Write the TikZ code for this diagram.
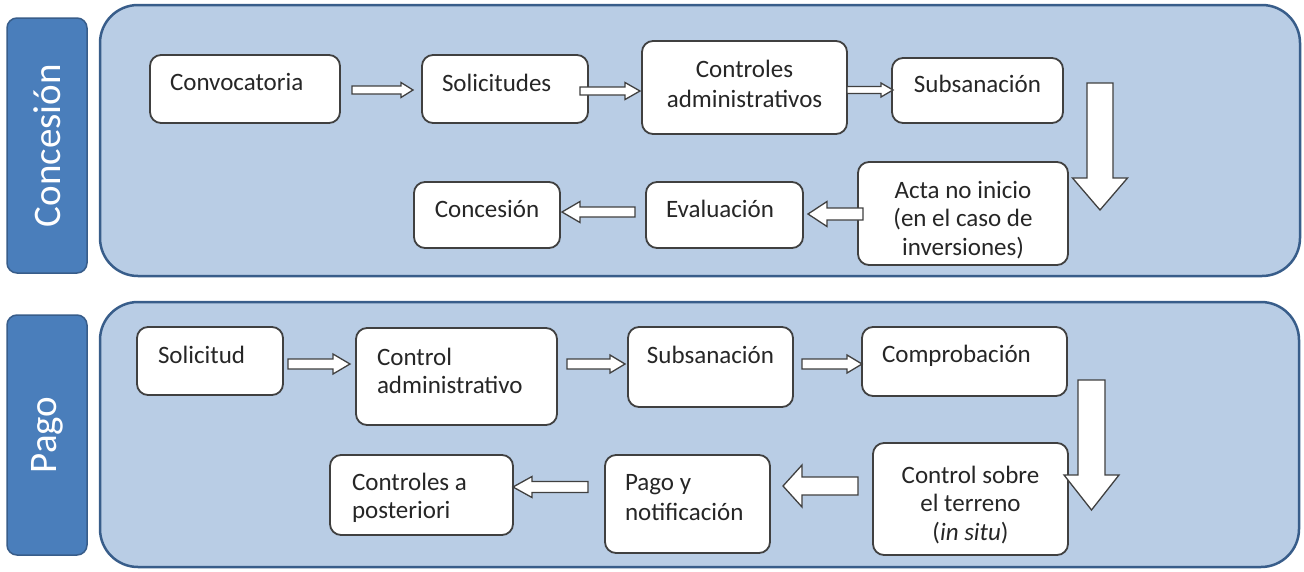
\documentclass[tikz,border=0pt]{standalone}
\usepackage{fontspec}
\setmainfont{Carlito}
\usetikzlibrary{calc}
\definecolor{panelfill}{HTML}{B9CDE5}
\definecolor{panelline}{HTML}{385D8A}
\definecolor{labfill}{HTML}{4A7EBB}
\definecolor{boxline}{HTML}{404040}
\definecolor{txt}{HTML}{262626}
\tikzset{
  panel/.style={draw=panelline, fill=panelfill, line width=2.5pt, rounded corners=38pt},
  labelbox/.style={draw=panelline, fill=labfill, line width=1.5pt, rounded corners=10pt,
    text=white, font=\fontsize{39}{44}\selectfont, inner sep=0pt},
  stepbox/.style={draw=boxline, fill=white, line width=1.8pt, rounded corners=11pt,
    inner sep=0pt, outer sep=0pt, text=txt, font=\fontsize{25}{28.5}\selectfont},
  barrow/.style={draw=boxline, fill=white, line width=1.3pt, line join=miter},
}
\newcommand\LA[1]{\leftskip=#1pt\rightskip=0pt plus 1fil\relax}
% name, x1, y1, x2, y2, first-baseline offset, alignment, text
\newcommand\bx[8]{%
  \pgfmathsetmacro\bw{#4-#2}\pgfmathsetmacro\bh{#5-#3}%
  \node[stepbox, anchor=north west] (#1) at (#2,#3)
    {\parbox[c][\bh pt][t]{\bw pt}{\hyphenpenalty=10000 #7\rule{0pt}{#6pt}#8\par}};}
% horizontal block arrow: start, tip, shaft half, head half, head length
\newcommand\hbarrow[5]{%
  \draw[barrow] let \p1=#1, \p2=#2, \n1={ifthenelse(\x2>\x1,1,-1)} in
    ({\x1},{\y2+#3pt}) -- ({\x2-\n1*#5pt},{\y2+#3pt}) -- ({\x2-\n1*#5pt},{\y2+#4pt}) -- ({\x2},{\y2})
    -- ({\x2-\n1*#5pt},{\y2-#4pt}) -- ({\x2-\n1*#5pt},{\y2-#3pt}) -- ({\x1},{\y2-#3pt}) -- cycle;}
% downward block arrow
\newcommand\vbarrow[5]{%
  \draw[barrow] let \p1=#1, \p2=#2 in
    ({\x2-#3pt},{\y1}) -- ({\x2-#3pt},{\y2+#5pt}) -- ({\x2-#4pt},{\y2+#5pt}) -- ({\x2},{\y2})
    -- ({\x2+#4pt},{\y2+#5pt}) -- ({\x2+#3pt},{\y2+#5pt}) -- ({\x2+#3pt},{\y1}) -- cycle;}
\begin{document}
\begin{tikzpicture}[x=1pt,y=-1pt]
\path[use as bounding box, fill=white] (0,0) rectangle (1304,571);

% panels
\draw[panel] (100,5) rectangle (1300,276);
\draw[panel] (100,302) rectangle (1299,567);

% side labels
\node[labelbox, minimum width=255pt, minimum height=80pt, rotate=90] (lconc) at (47,145.5) {Concesión};
\node[labelbox, minimum width=240pt, minimum height=80pt, rotate=90] (lpago) at (47,435) {Pago};

% Concesión steps
\bx{conv}{150}{55}{340}{123}{35}{\LA{20}}{Convocatoria}
\bx{sol}{422}{55}{588}{123}{36}{\LA{20}}{Solicitudes}
\bx{ctrl}{642}{41}{847}{134}{36}{\centering\baselineskip=30pt}{Controles\\administrativos}
\bx{subs}{892}{58}{1063}{123}{34}{\centering}{Subsanación}
\bx{acta}{858}{162}{1068}{265}{36}{\centering}{Acta no inicio\\(en el caso de\\inversiones)}
\bx{eval}{646}{182}{803}{248}{35}{\LA{20}}{Evaluación}
\bx{conc}{414}{182}{560}{248}{35}{\centering}{Concesión}

% Pago steps
\bx{psol}{137}{327}{283}{395}{36}{\LA{21}}{Solicitud}
\bx{pctrl}{356}{328}{557}{425}{37}{\LA{21}}{Control\\administrativo}
\bx{psubs}{628}{327}{793}{407}{36}{\centering}{Subsanación}
\bx{pcomp}{862}{327}{1067}{396}{35}{\LA{20}}{Comprobación}
\bx{psobre}{873}{443}{1068}{555}{40}{\centering}{Control sobre\\el terreno\\(\textit{in situ})}
\bx{ppago}{605}{455}{770}{553}{35}{\LA{20}\baselineskip=30pt}{Pago y\\notificación}
\bx{ppost}{330}{455}{513}{535}{35}{\LA{22}\baselineskip=28pt}{Controles a\\posteriori}

% Concesión arrows
\hbarrow{($(conv.east)+(12,1)$)}{($(sol.west)+(-9,1)$)}{4}{7.5}{12}
\hbarrow{($(sol.east)+(-8,2)$)}{($(ctrl.west)+(-2,3.5)$)}{4}{8.5}{15}
\hbarrow{($(ctrl.east)+(0,2.5)$)}{($(subs.west)+(1,-0.5)$)}{3.5}{7}{12}
\vbarrow{($(subs.north east)+(37,25)$)}{($(acta.east)+(32,-3.5)$)}{13}{27.5}{32}
\hbarrow{($(acta.west)+(5,0.5)$)}{($(eval.east)+(5,-1)$)}{6}{12.5}{19}
\hbarrow{($(eval.west)+(-11,-3)$)}{($(conc.east)+(2,-3)$)}{5}{10.5}{18}

% Pago arrows
\hbarrow{($(psol.east)+(5,3)$)}{($(pctrl.west)+(-6,-12.5)$)}{5}{10}{17}
\hbarrow{($(pctrl.east)+(10,-12.5)$)}{($(psubs.west)+(-3,-3)$)}{5}{9}{15}
\hbarrow{($(psubs.east)+(9,-3)$)}{($(pcomp.west)+(0,2.5)$)}{5}{9}{15}
\vbarrow{($(pcomp.east)+(24.5,18.5)$)}{($(psobre.east)+(23.5,11)$)}{13.5}{27.5}{35}
\hbarrow{($(psobre.west)+(-15,-13)$)}{($(ppago.east)+(13,-18)$)}{9}{21}{19}
\hbarrow{($(ppago.west)+(-17,-17)$)}{($(ppost.east)+(0,-8)$)}{5.5}{10.5}{19}
\end{tikzpicture}
\end{document}
